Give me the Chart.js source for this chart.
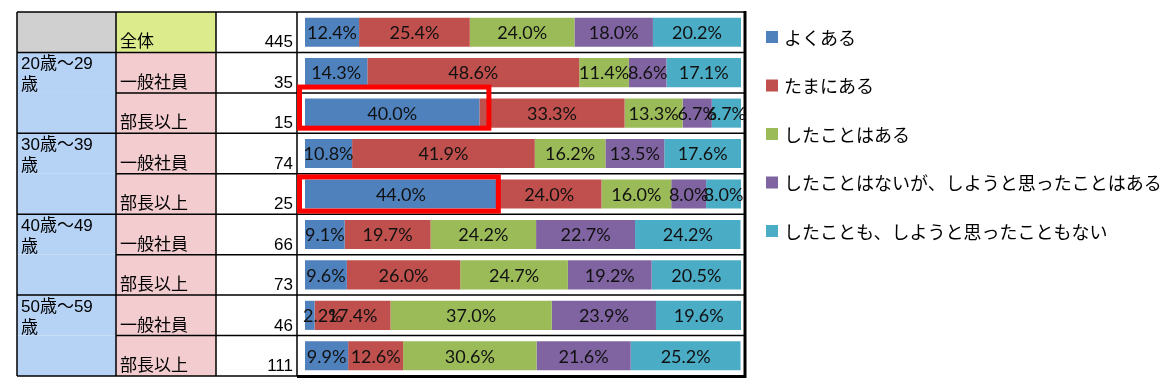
<!DOCTYPE html>
<html><head><meta charset="utf-8">
<script src="https://cdn.jsdelivr.net/npm/chart.js@4"></script>
<style>html,body{margin:0;padding:0;background:#fff;overflow:hidden}canvas{display:block}</style>
</head><body>
<canvas id="c" width="1172" height="379"></canvas>
<script>
// ---- data ----
const ageGroups = ['20歳～29歳', '30歳～39歳', '40歳～49歳', '50歳～59歳'];
const rowAge = [null, 0, 0, 1, 1, 2, 2, 3, 3];
const rowNames = ['全体', '一般社員', '部長以上', '一般社員', '部長以上', '一般社員', '部長以上', '一般社員', '部長以上'];
const counts = [445, 35, 15, 74, 25, 66, 73, 46, 111];
const seriesNames = ['よくある', 'たまにある', 'したことはある', 'したことはないが、しようと思ったことはある', 'したことも、しようと思ったこともない'];
const yokuAru    = [12.4, 14.3, 40.0, 10.8, 44.0,  9.1,  9.6,  2.2,  9.9];
const tamaniAru  = [25.4, 48.6, 33.3, 41.9, 24.0, 19.7, 26.0, 17.4, 12.6];
const shitaKoto  = [24.0, 11.4, 13.3, 16.2, 16.0, 24.2, 24.7, 37.0, 30.6];
const omottaKoto = [18.0,  8.6,  6.7, 13.5,  8.0, 22.7, 19.2, 23.9, 21.6];
const nai        = [20.2, 17.1,  6.7, 17.6,  8.0, 24.2, 20.5, 19.6, 25.2];
const highlightRows = [2, 4];

const colors = ['#4F81BD', '#C0504D', '#9BBB59', '#8064A2', '#4BACC6'];
const seriesData = [yokuAru, tamaniAru, shitaKoto, omottaKoto, nai];
const labels = rowNames.map((n, i) => (rowAge[i] === null ? '' : ageGroups[rowAge[i]] + ' ') + n);

const JP = '"Noto Sans CJK JP", sans-serif';
const TABLE_FONT = '17px "Liberation Sans", "Noto Sans CJK JP", sans-serif';

// table layout columns
const COL = [17, 116, 216, 297];
const BOX_RIGHT = 745;

const tablePlugin = {
  id: 'table',
  beforeDatasetsDraw(chart) {
    const ctx = chart.ctx, ys = chart.scales.y, ca = chart.chartArea;
    const n = labels.length;
    const h = (ca.bottom - ca.top) / n;
    const top = i => ys.getPixelForValue(i) - h / 2;
    ctx.save();
    for (let i = 0; i < n; i++) {
      const t = top(i);
      if (rowAge[i] === null) {
        ctx.fillStyle = '#D0D0D0'; ctx.fillRect(COL[0], t, COL[1] - COL[0], h);
        ctx.fillStyle = '#DCEB8C'; ctx.fillRect(COL[1], t, COL[2] - COL[1], h);
      } else {
        ctx.fillStyle = '#B6D2F5'; ctx.fillRect(COL[0], t, COL[1] - COL[0], h);
        ctx.fillStyle = '#F2CCCF'; ctx.fillRect(COL[1], t, COL[2] - COL[1], h);
      }
    }
    ctx.fillStyle = '#000';
    ctx.font = TABLE_FONT;
    ctx.textBaseline = 'alphabetic';
    for (let i = 0; i < n; i++) {
      const b = top(i) + h;
      ctx.textAlign = 'left';
      ctx.fillText(rowNames[i], COL[1] + 4, b - 5);
      ctx.textAlign = 'right';
      ctx.fillText(String(counts[i]), COL[3] - 4, b - 5);
    }
    ctx.textAlign = 'left';
    ageGroups.forEach((g, gi) => {
      const first = rowAge.indexOf(gi);
      const t = top(first);
      const lines = [g.slice(0, -1), g.slice(-1)];
      lines.forEach((ln, li) => ctx.fillText(ln, COL[0] + 4, t + 17 + li * 21));
    });
    ctx.strokeStyle = '#000';
    ctx.lineWidth = 1.5;
    ctx.beginPath();
    COL.forEach(x => { ctx.moveTo(x, ca.top); ctx.lineTo(x, ca.bottom); });
    ctx.moveTo(COL[0], ca.top); ctx.lineTo(BOX_RIGHT, ca.top);
    for (let i = 1; i <= n; i++) {
      const y = top(i - 1) + h;
      const groupEdge = i === n || rowAge[i] !== rowAge[i - 1];
      ctx.moveTo(groupEdge ? COL[0] : COL[1], y);
      ctx.lineTo(BOX_RIGHT, y);
    }
    ctx.stroke();
    ctx.lineWidth = 3;
    ctx.beginPath();
    ctx.moveTo(BOX_RIGHT, ca.top - 1); ctx.lineTo(BOX_RIGHT, ca.bottom + 1.5);
    ctx.moveTo(COL[3], ca.bottom + 0.5); ctx.lineTo(BOX_RIGHT + 1.5, ca.bottom + 0.5);
    ctx.stroke();
    ctx.restore();
  }
};

const labelPlugin = {
  id: 'vals',
  afterDatasetsDraw(chart) {
    const ctx = chart.ctx, ca = chart.chartArea;
    ctx.save();
    ctx.font = '18px Lato, "Open Sans", sans-serif';
    ctx.fillStyle = '#111';
    ctx.textAlign = 'left';
    ctx.textBaseline = 'middle';
    chart.data.datasets.forEach((ds, di) => {
      chart.getDatasetMeta(di).data.forEach((bar, i) => {
        const txt = ds.data[i].toFixed(1) + '%';
        const w = ctx.measureText(txt).width;
        let x = (bar.x + bar.base) / 2 - w / 2;
        x = Math.max(ca.left - 2, Math.min(x, ca.right + 5 - w));
        ctx.fillText(txt, x, bar.y + 1);
      });
    });
    const pads = { 2: [8, 12, 14, 3], 4: [8, 4, 5, 5] };
    ctx.strokeStyle = '#FF0000';
    ctx.lineWidth = 5;
    highlightRows.forEach(r => {
      const bar = chart.getDatasetMeta(0).data[r];
      const [pl, pr, pt, pb] = pads[r];
      const x1 = bar.base - pl, x2 = bar.x + pr;
      const y1 = bar.y - bar.height / 2 - pt, y2 = bar.y + bar.height / 2 + pb;
      ctx.strokeRect(x1 + 2.5, y1 + 2.5, x2 - x1 - 5, y2 - y1 - 5);
    });
    ctx.restore();
  }
};

const legendPlugin = {
  id: 'legendDraw',
  afterDraw(chart) {
    const ctx = chart.ctx;
    ctx.save();
    ctx.font = '18px ' + JP;
    ctx.textBaseline = 'middle';
    ctx.textAlign = 'left';
    seriesNames.forEach((s, i) => {
      const cy = 37 + i * 48.5;
      ctx.fillStyle = colors[i];
      ctx.fillRect(766, cy - 6, 12, 12);
      ctx.fillStyle = '#000';
      ctx.fillText(s, 784, cy + 1);
    });
    ctx.restore();
  }
};

new Chart(document.getElementById('c'), {
  type: 'bar',
  data: {
    labels: labels,
    datasets: seriesNames.map((s, i) => ({
      label: s,
      data: seriesData[i],
      backgroundColor: colors[i],
      borderWidth: 0,
      barPercentage: 0.72,
      categoryPercentage: 1
    }))
  },
  options: {
    indexAxis: 'y',
    responsive: false,
    animation: false,
    layout: { padding: { left: 305, right: 1172 - 741, top: 12, bottom: 3 } },
    scales: {
      x: { stacked: true, min: 0, max: 100, display: false },
      y: { stacked: true, display: false }
    },
    plugins: { legend: { display: false }, tooltip: { enabled: false } }
  },
  plugins: [tablePlugin, labelPlugin, legendPlugin]
});
</script>
</body></html>
